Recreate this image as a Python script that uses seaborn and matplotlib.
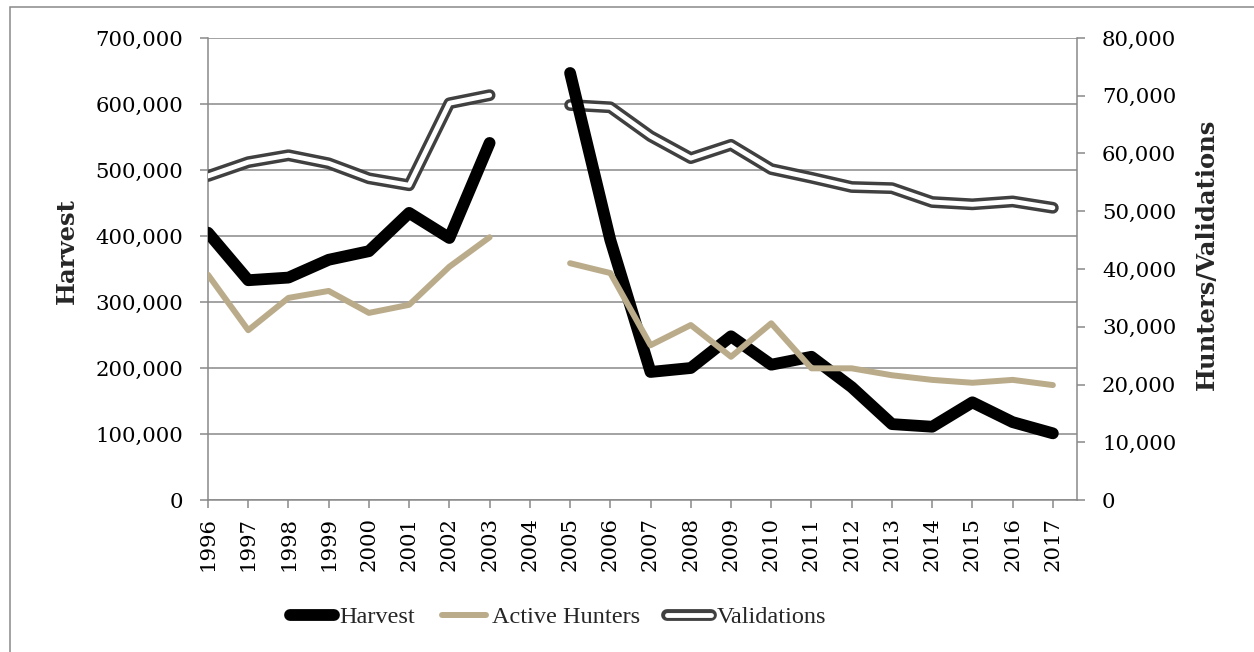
import numpy as np
import pandas as pd
import seaborn as sns
import matplotlib.pyplot as plt
from matplotlib.lines import Line2D
from matplotlib.legend_handler import HandlerTuple
from matplotlib.patches import Rectangle
from matplotlib.ticker import FuncFormatter

# ~~~~~~~~ Data ~~~~~~~~
years = list(range(1996, 2018))
harvest = [405000, 333000, 337000, 364000, 377000, 435000, 397000, 541000, np.nan,
           647000, 394000, 194000, 200000, 248000, 205000, 217000, 171000,
           115000, 111000, 148000, 118000, 101000]
hunters = [39000, 29400, 35000, 36200, 32400, 33800, 40400, 45500, np.nan,
           41000, 39300, 26800, 30300, 24800, 30600, 22800, 22800,
           21600, 20800, 20300, 20800, 19900]
validations = [56100, 58500, 59700, 58300, 55700, 54500, 68700, 70100, np.nan,
               68400, 68000, 63000, 59200, 61500, 57300, 55800, 54200,
               54000, 51600, 51200, 51700, 50600]

df = pd.DataFrame({'year': years, 'harvest': harvest,
                   'hunters': hunters, 'validations': validations})
df['period'] = np.where(df['year'] < 2004, 'early', 'late')

# ~~~~~~~~ Plot ~~~~~~~~
sns.set_theme(style="white")
plt.rcParams['font.family'] = ['DejaVu Serif']
FS = 15.3
LFS = 17.5

fig = plt.figure(figsize=(12.54, 6.52), dpi=100)
ax = fig.add_axes([208/1254, 1-500/652, (1077-208)/1254, 462/652])

GRAY = '#898989'
TAN = '#BAAC8A'
DARK = '#404040'

# base axis: left scale + grid
ax.set_ylim(0, 700000)
ax.set_yticks(range(0, 700001, 100000))
ax.yaxis.set_major_formatter(FuncFormatter(lambda v, _: f"{v:,.0f}"))
ax.grid(axis='y', color=GRAY, lw=1.1)
ax.set_xlim(1996, 2017.6)
ax.set_xticks(years)
ax.set_xticklabels([str(y) for y in years], rotation=90)
for s in ['top', 'right']:
    ax.spines[s].set_visible(False)
for s in ['left', 'bottom']:
    ax.spines[s].set_color(GRAY)
    ax.spines[s].set_linewidth(1.1)
ax.tick_params(axis='y', which='major', left=True, length=6, width=1.1,
               color=GRAY, pad=12, labelcolor='black', labelsize=FS)
ax.tick_params(axis='x', which='major', bottom=True, length=6, width=1.1,
               color=GRAY, pad=6, labelcolor='black', labelsize=FS)
ax.set_ylabel("Harvest", fontweight='bold', fontsize=LFS)
ax.yaxis.set_label_coords(-0.149, 0.539)

# validations (right scale, drawn at the bottom)
ax_v = ax.twinx()
ax_v.set_ylim(0, 80000)
ax_v.set_yticks(range(0, 80001, 10000))
ax_v.yaxis.set_major_formatter(FuncFormatter(lambda v, _: f"{v:,.0f}"))
for s in ['top', 'left', 'bottom']:
    ax_v.spines[s].set_visible(False)
ax_v.spines['right'].set_color(GRAY)
ax_v.spines['right'].set_linewidth(1.1)
ax_v.tick_params(axis='y', right=True, length=6, width=1.1, color=GRAY,
                 pad=12, labelcolor='black', labelsize=FS)
sns.lineplot(data=df, x='year', y='validations', units='period', estimator=None,
             color=DARK, lw=8.5, solid_capstyle='round', ax=ax_v)
sns.lineplot(data=df, x='year', y='validations', units='period', estimator=None,
             color='white', lw=3.5, solid_capstyle='round', ax=ax_v)
ax_v.set_xlabel("")
ax_v.set_ylabel("Hunters/Validations", fontweight='bold', fontsize=LFS)
ax_v.yaxis.set_label_coords(1.136, 0.532)

# harvest (left scale)
ax_h = ax.twinx()
ax_h.set_ylim(0, 700000)
ax_h.axis('off')
sns.lineplot(data=df, x='year', y='harvest', units='period', estimator=None,
             color='black', lw=8.5, solid_capstyle='round', ax=ax_h)

# active hunters (right scale, on top)
ax_a = ax.twinx()
ax_a.set_ylim(0, 80000)
ax_a.axis('off')
sns.lineplot(data=df, x='year', y='hunters', units='period', estimator=None,
             color=TAN, lw=4.3, solid_capstyle='round', ax=ax_a)

for a in [ax_v, ax_h, ax_a]:
    a.set_xlim(1996, 2017.6)

# Legend
h1 = Line2D([], [], color='black', lw=8.5, solid_capstyle='round')
h2 = Line2D([], [], color=TAN, lw=4.3, solid_capstyle='round')
h3a = Line2D([], [], color=DARK, lw=8.5, solid_capstyle='round')
h3b = Line2D([], [], color='white', lw=3.5, solid_capstyle='round')
fig.legend([h1, h2, (h3a, h3b)], ["Harvest", "Active Hunters", "Validations"],
           handler_map={tuple: HandlerTuple(ndivide=1)},
           loc='center', bbox_to_anchor=(558/1254, 1-617/652), ncol=3,
           frameon=False, handlelength=1.8, handletextpad=0.25,
           columnspacing=1.1, prop={'family': 'Liberation Serif', 'size': 17.5})

# outer chart border
fig.patches.append(Rectangle((10/1254, -0.1), 1.1, 0.1+1-7/652,
                             transform=fig.transFigure, fill=False,
                             edgecolor=GRAY, lw=1.1))

plt.savefig("out.png", dpi=100)
